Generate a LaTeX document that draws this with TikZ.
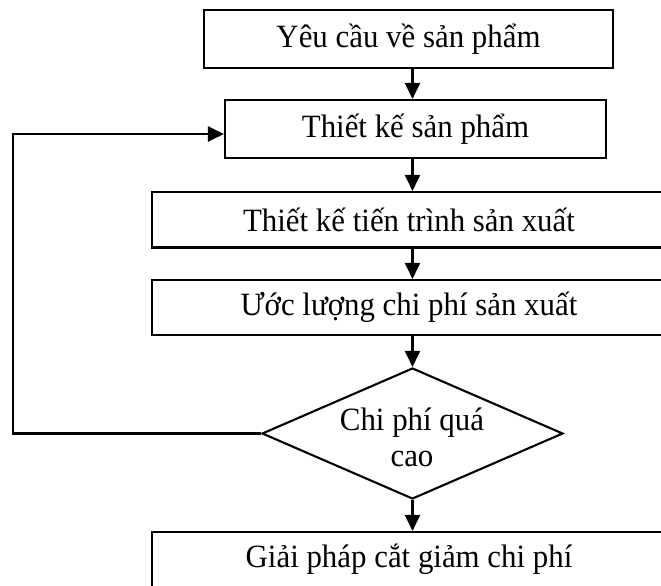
\documentclass[tikz,border=0pt]{standalone}
\usepackage{fontspec}
\setmainfont{Liberation Serif}
\usetikzlibrary{arrows.meta,shapes.geometric}
\begin{document}
\begin{tikzpicture}[x=1pt,y=-1pt,
  line width=2.1pt,
  txt/.style={font=\fontsize{32.5}{36}\selectfont},
  box/.style={draw,rectangle,inner sep=0pt,txt},
  dec/.style={draw,diamond,inner sep=0pt,minimum width=301pt,minimum height=131pt},
  lbl/.style={inner sep=0pt,align=center,txt},
  arr/.style={-{Triangle[width=15pt,length=16pt]}}]
\useasboundingbox (0,0) rectangle (661,586);
\clip (0,0) rectangle (661,586);
\node[box,minimum width=409pt,minimum height=58pt] (b1) at (408.5,39) {\scalebox{0.95}[1]{Yêu cầu về sản phẩm}};
\node[box,minimum width=381pt,minimum height=58pt] (b2) at (415.5,129) {\scalebox{0.95}[1]{Thiết kế sản phẩm}};
\node[box,minimum width=514pt,minimum height=55.5pt] (b3) at (409,219.75) {\scalebox{0.95}[1]{Thiết kế tiến trình sản xuất}};
\node[box,minimum width=514pt,minimum height=55pt] (b4) at (409,307.5) {\scalebox{0.95}[1]{Ước lượng chi phí sản xuất}};
\node[dec] (dia) at (412.5,433.5) {};
\node[lbl] (dt) at (412,437) {\scalebox{0.95}[1]{Chi phí quá}\\\scalebox{0.95}[1]{cao}};
\node[box,minimum width=514pt,minimum height=55pt] (b5) at (409,559.5) {\scalebox{0.95}[1]{Giải pháp cắt giảm chi phí}};
\coordinate (c1) at (13,435);
\draw[arr] (b1.south -| dia.north) -- (b2.north -| dia.north);
\draw[arr] (b2.south -| dia.north) -- (b3.north -| dia.north);
\draw[arr] (b3.south -| dia.north) -- (b4.north -| dia.north);
\draw[arr] (b4.south -| dia.north) -- (dia.north);
\draw[arr] (dia.south) -- (b5.north -| dia.south);
\draw[arr] (dia.west) -- (dia.west -| c1) |- ([yshift=-5pt]b2.west);
\end{tikzpicture}
\end{document}
